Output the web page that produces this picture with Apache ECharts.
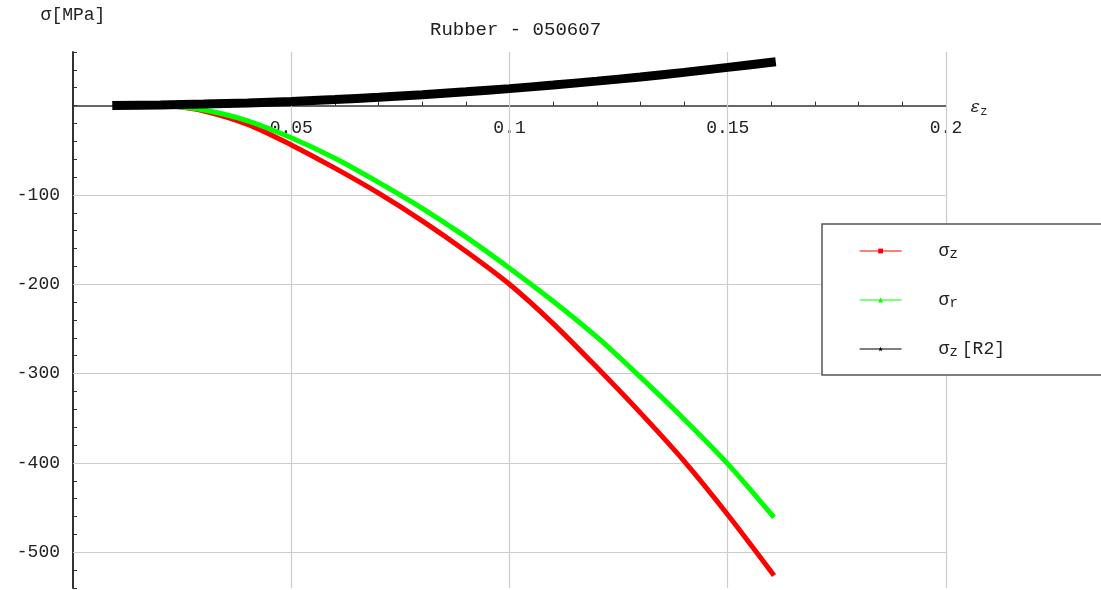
<!DOCTYPE html>
<html>
<head>
<meta charset="utf-8">
<script src="https://cdn.jsdelivr.net/npm/echarts@6/dist/echarts.min.js"></script>
<style>html,body{margin:0;padding:0;background:#fff;}#c{width:1101px;height:590px;}</style>
</head>
<body>
<div id="c"></div>
<script>
// strain values (ε_z) and stresses (MPa)
const epsRed   = [0.022,0.03,0.04,0.05,0.06,0.07,0.08,0.09,0.1,0.11,0.12,0.13,0.14,0.15,0.1606];
const sigmaZ   = [0,-6,-21,-44,-70,-98,-129,-163,-200,-244,-293,-344,-398,-458,-526];
const epsGreen = [0.021,0.03,0.04,0.05,0.06,0.07,0.08,0.09,0.1,0.11,0.12,0.13,0.14,0.15,0.1606];
const sigmaR   = [0,-5,-17,-36,-59,-86,-115,-147,-182,-219,-259,-304,-351,-401,-461];
const epsBlack = [0.009,0.02,0.03,0.04,0.05,0.06,0.07,0.08,0.09,0.1,0.11,0.12,0.13,0.14,0.15,0.161];
const sigmaZR2 = [0,0.8,1.7,3,4.7,6.8,9.3,12.2,15.4,19,23,27.4,32,37.2,42.8,49];
const xTickLabels = ['0.05','0.1','0.15','0.2'];
const yTickLabels = ['-100','-200','-300','-400','-500'];
const xGrid = [0.05,0.1,0.15,0.2];
const yGrid = [-100,-200,-300,-400,-500];
const seriesNames = ['σz','σr','σz[R2]'];

const pairs = (xs, ys) => xs.map((x, i) => [x, ys[i]]);
const FONT = 'Liberation Mono';
const STAR = 'path://M50,0 L61,35 L98,35 L68,57 L79,91 L50,70 L21,91 L32,57 L2,35 L39,35 Z';

// layout
const H = 590, GRID_TOP = 52, GRID_BOTTOM = 2;
const X_MIN = 0, X_MAX = 0.2, Y_MIN = -540, Y_MAX = 60;
// move the x axis (line, ticks and labels) to y = 0
const xAxisOffset = -(H - GRID_TOP - GRID_BOTTOM) * (0 - Y_MIN) / (Y_MAX - Y_MIN);

const legendText = {
  'σz': '{pad|}{g|σ}{sub|z}',
  'σr': '{pad|}{g|σ}{sub|r}',
  'σz[R2]': '{pad|}{g|σ}{sub|z}{t|[R2]}'
};

const chart = echarts.init(document.getElementById('c'), null, {renderer: 'canvas'});
chart.setOption({
  animation: false,
  backgroundColor: '#fff',
  title: {
    text: 'Rubber - 050607',
    left: 425, top: 15,
    textStyle: {fontFamily: FONT, fontSize: 19, fontWeight: 'normal', color: '#222'}
  },
  grid: {left: 73, right: 155, top: GRID_TOP, bottom: GRID_BOTTOM, containLabel: false, outerBoundsMode: 'none'},
  legend: {
    orient: 'vertical',
    left: 822, top: 224,
    padding: [15, 260, 16, 37],
    itemWidth: 42, itemHeight: 6, itemGap: 27,
    borderColor: '#555', borderWidth: 1.5, backgroundColor: '#fff',
    lineStyle: {width: 1.2},
    data: seriesNames,
    formatter: n => legendText[n],
    textStyle: {
      fontFamily: FONT, color: '#222',
      rich: {
        pad: {width: 32},
        g: {fontFamily: FONT, fontSize: 18, color: '#222', lineHeight: 20},
        sub: {fontFamily: FONT, fontSize: 14, color: '#222', verticalAlign: 'bottom', padding: [8, 0, 0, 0], lineHeight: 20},
        t: {fontFamily: FONT, fontSize: 18, color: '#222', lineHeight: 20, padding: [0, 0, 0, 4]}
      }
    }
  },
  xAxis: {
    type: 'value', min: X_MIN, max: X_MAX, interval: 0.01,
    position: 'bottom', offset: xAxisOffset,
    name: '{e|ε}{sub|z}', nameLocation: 'end', nameGap: 24,
    nameTextStyle: {
      padding: [4, 0, 0, 0],
      rich: {
        e: {fontFamily: FONT, fontSize: 17, fontStyle: 'italic', color: '#222'},
        sub: {fontFamily: FONT, fontSize: 12, color: '#222', verticalAlign: 'bottom', padding: [8, 0, 0, 0]}
      }
    },
    axisLine: {onZero: false, lineStyle: {color: '#333', width: 1.5}},
    axisTick: {inside: true, length: 4, lineStyle: {color: '#333', width: 1}},
    axisLabel: {
      margin: 14, fontFamily: FONT, fontSize: 18, color: '#222',
      formatter: v => { const s = String(+v.toFixed(2)); return xTickLabels.includes(s) ? s : ''; }
    },
    splitLine: {show: false}
  },
  yAxis: {
    type: 'value', min: Y_MIN, max: Y_MAX, interval: 20,
    name: 'σ[MPa]', nameLocation: 'end', nameGap: 28,
    nameTextStyle: {fontFamily: FONT, fontSize: 18, color: '#222', align: 'center'},
    axisLine: {show: true, onZero: false, lineStyle: {color: '#333', width: 2}},
    axisTick: {show: true, inside: true, length: 4, lineStyle: {color: '#333', width: 1}},
    axisLabel: {
      margin: 13, fontFamily: FONT, fontSize: 18, color: '#222',
      formatter: v => { const s = String(Math.round(v)); return yTickLabels.includes(s) ? s : ''; }
    },
    splitLine: {show: false}
  },
  series: [
    {
      name: seriesNames[0], type: 'line', data: pairs(epsRed, sigmaZ),
      smooth: 0.3, symbol: 'rect', symbolSize: 5, showSymbol: false,
      itemStyle: {color: '#ff0000'}, lineStyle: {color: '#ff0000', width: 5},
      emphasis: {disabled: true}, z: 2,
      markLine: {
        silent: true, z: 1, symbol: ['none', 'none'], animation: false,
        label: {show: false},
        lineStyle: {color: '#cccccc', type: 'solid', width: 1.2},
        emphasis: {disabled: true},
        data: xGrid.map(v => ({xAxis: v})).concat(yGrid.map(v => ({yAxis: v})))
      }
    },
    {
      name: seriesNames[1], type: 'line', data: pairs(epsGreen, sigmaR),
      smooth: 0.3, symbol: 'triangle', symbolSize: 5, showSymbol: false,
      itemStyle: {color: '#00ff00'}, lineStyle: {color: '#00ff00', width: 5},
      emphasis: {disabled: true}, z: 3
    },
    {
      name: seriesNames[2], type: 'line', data: pairs(epsBlack, sigmaZR2),
      smooth: 0.3, symbol: STAR, symbolSize: 8, showSymbol: false,
      itemStyle: {color: '#000'}, lineStyle: {color: '#000', width: 9},
      emphasis: {disabled: true}, z: 4
    }
  ]
});
</script>
</body>
</html>
